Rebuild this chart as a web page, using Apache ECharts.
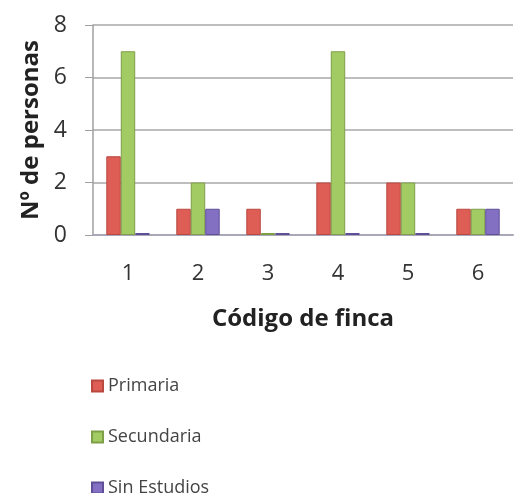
<!DOCTYPE html>
<html>
<head>
<meta charset="utf-8">
<script src="https://cdn.jsdelivr.net/npm/echarts@6/dist/echarts.min.js"></script>
<style>html,body{margin:0;padding:0;background:#fff}#c{width:518px;height:493px}</style>
</head>
<body>
<div id="c"></div>
<script>
var categories = ['1', '2', '3', '4', '5', '6'];
var primaria = [3, 1, 1, 2, 2, 1];
var secundaria = [7, 2, 0, 7, 2, 1];
var sinEstudios = [0, 1, 0, 0, 0, 1];
var seriesNames = ['Primaria', 'Secundaria', 'Sin Estudios'];

var chart = echarts.init(document.getElementById('c'));
var font = 'Open Sans, Lato, sans-serif';
function bar(name, data, color, border) {
  return {
    name: name, type: 'bar', data: data, barMinHeight: 2,
    itemStyle: { color: color, borderColor: border, borderWidth: 1 },
    barGap: '0%', barCategoryGap: '38%'
  };
}
chart.setOption({
  animation: false,
  grid: { left: 93, right: 5, top: 25, bottom: 258 },
  legend: {
    orient: 'vertical', left: 86, top: 372, height: 130, itemGap: 33,
    itemWidth: 11, itemHeight: 11, icon: 'rect',
    textStyle: { fontFamily: font, fontSize: 18, color: '#444' },
    data: seriesNames
  },
  xAxis: {
    type: 'category', data: categories,
    name: 'Código de finca', nameLocation: 'middle', nameGap: 72,
    nameTextStyle: { fontFamily: font, fontSize: 24, fontWeight: 'bold', color: '#222' },
    axisLine: { lineStyle: { color: '#a8a8b8', width: 2 } },
    axisTick: { show: false },
    axisLabel: { fontFamily: font, fontSize: 22, color: '#333', margin: 28 }
  },
  yAxis: {
    type: 'value', min: 0, max: 8, interval: 2,
    name: 'Nº de personas', nameLocation: 'middle', nameGap: 50,
    nameTextStyle: { fontFamily: font, fontSize: 24, fontWeight: 'bold', color: '#222' },
    axisLine: { show: true, lineStyle: { color: '#a0a0a0', width: 1.5 } },
    axisTick: { show: true, length: 8, lineStyle: { color: '#a0a0a0' } },
    axisLabel: { fontFamily: font, fontSize: 23, color: '#333', margin: 26 },
    splitLine: { lineStyle: { color: '#a8a8a8', width: 1.5 } }
  },
  series: [
    bar(seriesNames[0], primaria, '#de5d55', '#b94840'),
    bar(seriesNames[1], secundaria, '#a3cb64', '#7f9e48'),
    bar(seriesNames[2], sinEstudios, '#8470c2', '#5f4f98')
  ]
});
</script>
</body>
</html>
